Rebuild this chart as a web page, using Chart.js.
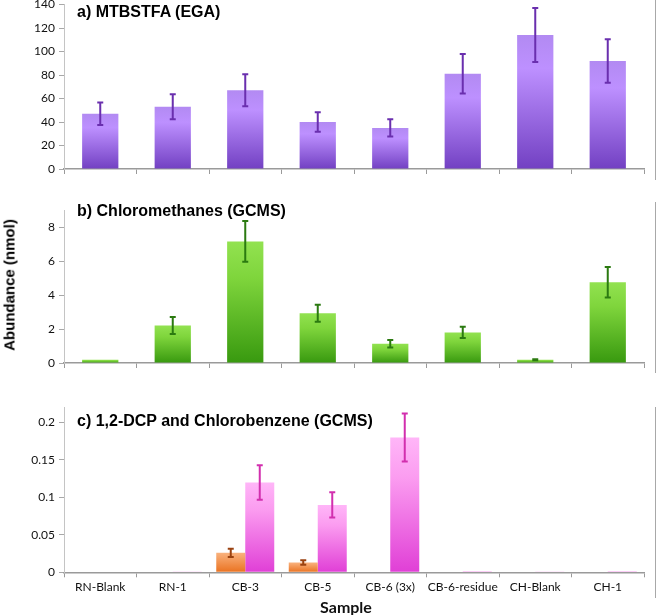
<!DOCTYPE html>
<html>
<head>
<meta charset="utf-8">
<script src="https://cdn.jsdelivr.net/npm/chart.js@4"></script>
<style>
    body { margin: 0; background: #fff; width: 657px; height: 615px; position: relative; overflow: hidden; }
    .panel { position: absolute; left: 0; width: 657px; }
    .ptitle { position: absolute; left: 77px; font: bold 16px "Liberation Sans", Arial, sans-serif; color: #000; white-space: nowrap; }
    .edge { position: absolute; left: 655px; width: 1px; background: #a8a8a8; }
    #ytitle { position: absolute; left: 9px; top: 285px; transform: translate(-50%, -50%) rotate(-90deg);
              font: bold 15px "Liberation Sans", Arial, sans-serif; white-space: nowrap; }
    #xtitle { position: absolute; left: 346px; top: 606px; transform: translate(-50%, -50%);
              font: bold 16px Lato, sans-serif; color: #111; white-space: nowrap; }
</style>
</head>
<body>
<div class="panel" style="top:0px;height:185px"><canvas id="chartA"></canvas></div>
<div class="panel" style="top:190px;height:190px"><canvas id="chartB"></canvas></div>
<div class="panel" style="top:390px;height:225px"><canvas id="chartC"></canvas></div>
<div class="ptitle" style="top:3px">a) MTBSTFA (EGA)</div>
<div class="ptitle" style="top:202px">b) Chloromethanes (GCMS)</div>
<div class="ptitle" style="top:412px">c) 1,2-DCP and Chlorobenzene (GCMS)</div>
<div id="ytitle">Abundance (nmol)</div>
<div id="xtitle">Sample</div>
<div class="edge" style="top:0px;height:180px"></div>
<div class="edge" style="top:202px;height:171px"></div>
<div class="edge" style="top:407px;height:191px"></div>
<script>
// sample names along the bottom
const samples = ['RN-Blank', 'RN-1', 'CB-3', 'CB-5', 'CB-6 (3x)', 'CB-6-residue', 'CH-Blank', 'CH-1'];

// a) MTBSTFA (EGA)
const mtbstfa = [47, 53, 67, 40, 35, 81, 114, 92];
const mtbstfaErr = [9.5, 10.7, 13.7, 8.3, 7.4, 16.8, 23, 18.5];

// b) Chloromethanes (GCMS)
const chloromethanes = [0.19, 2.2, 7.15, 2.93, 1.13, 1.8, 0.19, 4.75];
const chloromethanesErr = [0, 0.5, 1.2, 0.5, 0.22, 0.33, 0.03, 0.9];

// c) 1,2-DCP and Chlorobenzene (GCMS)
const dcp = [0, 0, 0.026, 0.013, 0, 0, 0, 0];
const dcpErr = [0, 0, 0.0055, 0.003, 0, 0, 0, 0];
const chlorobenzene = [0.0008, 0.001, 0.12, 0.09, 0.18, 0.0015, 0.0005, 0.0015];
const chlorobenzeneErr = [0, 0, 0.023, 0.017, 0.032, 0, 0, 0];

// axis ranges / tick steps
const axisA = { max: 140, step: 20 };
const axisB = { max: 9, step: 2 };
const axisC = { max: 0.22, step: 0.05 };

const tickFont = { family: 'Lato', size: 12 };

// vertical gradient per bar, light at top, dark at bottom
function barGradient(stops) {
    return function(ctx) {
        const chart = ctx.chart;
        if (!chart.chartArea || ctx.type !== 'data') return stops[0][1];
        const y = chart.scales.y;
        const top = y.getPixelForValue(ctx.raw);
        const bottom = y.getPixelForValue(0);
        if (bottom - top < 1) return stops[0][1];
        const g = chart.ctx.createLinearGradient(0, top, 0, bottom);
        stops.forEach(s => g.addColorStop(s[0], s[1]));
        return g;
    };
}

// error bars drawn from the y scale of each chart
const errorBars = {
    id: 'errorBars',
    afterDatasetsDraw(chart) {
        const ctx = chart.ctx;
        const y = chart.scales.y;
        chart.data.datasets.forEach((ds, di) => {
            if (!ds.errors) return;
            const meta = chart.getDatasetMeta(di);
            ctx.save();
            ctx.strokeStyle = ds.errorColor;
            ctx.lineWidth = 2;
            meta.data.forEach((bar, i) => {
                const e = ds.errors[i];
                if (!e) return;
                const v = ds.data[i];
                const y1 = y.getPixelForValue(v + e);
                const y2 = y.getPixelForValue(v - e);
                const x = bar.x;
                ctx.beginPath();
                ctx.moveTo(x, y1); ctx.lineTo(x, y2);
                ctx.moveTo(x - 3, y1); ctx.lineTo(x + 3, y1);
                ctx.moveTo(x - 3, y2); ctx.lineTo(x + 3, y2);
                ctx.stroke();
            });
            ctx.restore();
        });
    }
};

function makeChart(canvasId, datasets, axis, opts) {
    const onStep = v => Math.abs(v / axis.step - Math.round(v / axis.step)) < 1e-6;
    return new Chart(document.getElementById(canvasId), {
        type: 'bar',
        data: { labels: samples, datasets: datasets },
        options: {
            responsive: true,
            maintainAspectRatio: false,
            animation: false,
            layout: { padding: { top: opts.top, right: 13, left: 0, bottom: 0 } },
            plugins: { legend: { display: false }, tooltip: { enabled: false } },
            datasets: { bar: { categoryPercentage: opts.catPct, barPercentage: 1 } },
            scales: {
                x: {
                    grid: { offset: true, drawOnChartArea: false, tickLength: 5, color: '#9a9a9a' },
                    border: { color: '#9a9a9a', width: 1.5 },
                    ticks: { display: opts.showLabels, color: '#111', font: tickFont, padding: 3, maxRotation: 0, autoSkip: false },
                    afterFit(s) { s.height = opts.xHeight; s.paddingLeft = 0; s.paddingRight = 0; }
                },
                y: {
                    min: 0,
                    max: axis.max,
                    grid: { drawOnChartArea: false, tickLength: 5, color: '#a8a8a8' },
                    border: { color: '#c4c4c4', width: 1 },
                    ticks: {
                        stepSize: axis.step, color: '#111', font: tickFont, padding: 4,
                        callback: v => String(Number(v.toFixed(3)))
                    },
                    afterBuildTicks(s) { s.ticks = s.ticks.filter(t => onStep(t.value)); },
                    afterFit(s) { s.width = 64; s.paddingTop = 0; s.paddingBottom = 0; }
                }
            }
        },
        plugins: [errorBars]
    });
}

makeChart('chartA', [{
    data: mtbstfa,
    errors: mtbstfaErr,
    errorColor: '#6a2fae',
    backgroundColor: barGradient([[0, '#b28af2'], [0.25, '#bd90ff'], [1, '#7240c2']])
}], axisA, { top: 4.5, xHeight: 16, catPct: 0.5, showLabels: false });

makeChart('chartB', [{
    data: chloromethanes,
    errors: chloromethanesErr,
    errorColor: '#2b7a10',
    backgroundColor: barGradient([[0, '#92e250'], [0.3, '#7fd53c'], [1, '#38990f']])
}], axisB, { top: 20, xHeight: 17, catPct: 0.5, showLabels: false });

makeChart('chartC', [{
    data: dcp,
    errors: dcpErr,
    errorColor: '#9a4210',
    backgroundColor: barGradient([[0, '#f9b27e'], [1, '#ea7220']])
}, {
    data: chlorobenzene,
    errors: chlorobenzeneErr,
    errorColor: '#d22fae',
    backgroundColor: barGradient([[0, '#ffb6f8'], [0.3, '#fb9cf0'], [1, '#e03fd6']])
}], axisC, { top: 17.5, xHeight: 42.7, catPct: 0.8, showLabels: true });
</script>
</body>
</html>
